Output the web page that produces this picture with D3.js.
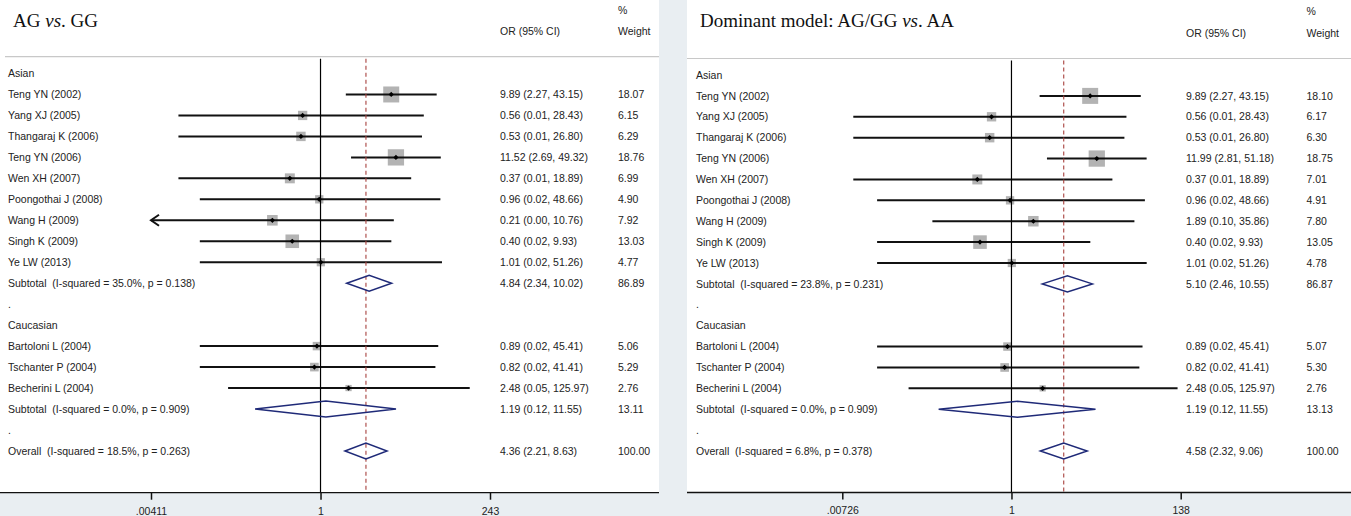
<!DOCTYPE html>
<html>
<head>
<meta charset="utf-8">
<script src="https://cdn.jsdelivr.net/npm/d3@7/dist/d3.min.js"></script>
<style>
  html, body { margin: 0; padding: 0; background: #ffffff; }
  svg { display: block; }
  text { white-space: pre; }
</style>
</head>
<body>
<svg id="chart" width="1351" height="516"></svg>
<script>
// ---- Study names (shared by both panels) ----
const asianStudies = ["Teng YN (2002)", "Yang XJ (2005)", "Thangaraj K (2006)", "Teng YN (2006)",
  "Wen XH (2007)", "Poongothai J (2008)", "Wang H (2009)", "Singh K (2009)", "Ye LW (2013)"];
const caucasianStudies = ["Bartoloni L (2004)", "Tschanter P (2004)", "Becherini L (2004)"];
const groupNames = ["Asian", "Caucasian"];

// ---- AG vs. GG ----
const agOR = [9.89, 0.56, 0.53, 11.52, 0.37, 0.96, 0.21, 0.40, 1.01, 0.89, 0.82, 2.48];
const agLo = [2.27, 0.01, 0.01, 2.69, 0.01, 0.02, 0.00, 0.02, 0.02, 0.02, 0.02, 0.05];
const agHi = [43.15, 28.43, 26.80, 49.32, 18.89, 48.66, 10.76, 9.93, 51.26, 45.41, 41.41, 125.97];
const agW  = [18.07, 6.15, 6.29, 18.76, 6.99, 4.90, 7.92, 13.03, 4.77, 5.06, 5.29, 2.76];
const agSubOR = [4.84, 1.19];
const agSubLo = [2.34, 0.12];
const agSubHi = [10.02, 11.55];
const agSubW  = [86.89, 13.11];
const agSubI2 = ["35.0%", "0.0%"];
const agSubP  = ["0.138", "0.909"];
const agOverall = [4.36, 2.21, 8.63, 100.00];
const agOverallStats = ["18.5%", "0.263"];
const agTicks = [".00411", "1", "243"];

// ---- Dominant model: AG/GG vs. AA ----
const domOR = [9.89, 0.56, 0.53, 11.99, 0.37, 0.96, 1.89, 0.40, 1.01, 0.89, 0.82, 2.48];
const domLo = [2.27, 0.01, 0.01, 2.81, 0.01, 0.02, 0.10, 0.02, 0.02, 0.02, 0.02, 0.05];
const domHi = [43.15, 28.43, 26.80, 51.18, 18.89, 48.66, 35.86, 9.93, 51.26, 45.41, 41.41, 125.97];
const domW  = [18.10, 6.17, 6.30, 18.75, 7.01, 4.91, 7.80, 13.05, 4.78, 5.07, 5.30, 2.76];
const domSubOR = [5.10, 1.19];
const domSubLo = [2.46, 0.12];
const domSubHi = [10.55, 11.55];
const domSubW  = [86.87, 13.13];
const domSubI2 = ["23.8%", "0.0%"];
const domSubP  = ["0.231", "0.909"];
const domOverall = [4.58, 2.32, 9.06, 100.00];
const domOverallStats = ["6.8%", "0.378"];
const domTicks = [".00726", "1", "138"];

const SANS = "'Liberation Sans', Arial, Helvetica, sans-serif";
const SERIF = "'Liberation Serif', 'Times New Roman', Times, serif";
const BG = "#e9eef2";
const DIAMOND = "#1f2a78";
const REF = "#a8423f";

const svg = d3.select("#chart");

// outer graph region (light grey) behind the white plot areas
svg.append("rect").attr("x", 0).attr("y", 0).attr("width", 1351).attr("height", 516).attr("fill", BG);

function fmt(v) { return v.toFixed(2); }

// Build the row list for one panel from its arrays
function buildRows(or, lo, hi, w, subOR, subLo, subHi, subW, subI2, subP, overall, overallStats) {
  const rows = [];
  const groups = [asianStudies, caucasianStudies];
  let k = 0;
  groups.forEach((names, g) => {
    rows.push({ type: "group", label: groupNames[g] });
    names.forEach(n => {
      rows.push({ type: "study", label: n, or: or[k], lo: lo[k], hi: hi[k], w: w[k] });
      k++;
    });
    rows.push({ type: "diamond", label: `Subtotal  (I-squared = ${subI2[g]}, p = ${subP[g]})`,
      or: subOR[g], lo: subLo[g], hi: subHi[g], w: subW[g] });
    rows.push({ type: "blank", label: "." });
  });
  rows.push({ type: "diamond", label: `Overall  (I-squared = ${overallStats[0]}, p = ${overallStats[1]})`,
    or: overall[0], lo: overall[1], hi: overall[2], w: overall[3] });
  return rows;
}

function drawPanel(cfg) {
  const g = svg.append("g");
  const rows = cfg.rows;

  // white plot area
  g.append("rect").attr("x", cfg.left).attr("y", 0)
    .attr("width", cfg.right - cfg.left).attr("height", cfg.axisY).attr("fill", "#ffffff");

  const x = d3.scaleLog().domain(cfg.ticks.map(Number).filter((d, i) => i !== 1).length ?
      [Number(cfg.ticks[0]), Number(cfg.ticks[2])] : [0.01, 100])
    .range(cfg.range);
  const y = i => cfg.y0 + i * cfg.step;
  const xMin = x.domain()[0];

  // title
  const title = g.append("text").attr("x", cfg.titleX).attr("y", cfg.titleY)
    .attr("font-family", SERIF).attr("font-size", 19).attr("fill", "#111");
  cfg.title.forEach(p => title.append("tspan").attr("font-style", p.italic ? "italic" : "normal").text(p.t));

  // column headers
  g.append("text").attr("x", cfg.orX).attr("y", cfg.headY).attr("dy", "0.35em")
    .attr("font-family", SANS).attr("font-size", 10.5).attr("fill", "#222").text("OR (95% CI)");
  g.append("text").attr("x", cfg.wX).attr("y", cfg.headY - 21.5).attr("dy", "0.35em")
    .attr("font-family", SANS).attr("font-size", 10.5).attr("fill", "#222").text("%");
  g.append("text").attr("x", cfg.wX).attr("y", cfg.headY).attr("dy", "0.35em")
    .attr("font-family", SANS).attr("font-size", 10.5).attr("fill", "#222").text("Weight");

  // top rule
  g.append("line").attr("x1", cfg.left + cfg.ruleInset).attr("x2", cfg.right)
    .attr("y1", cfg.ruleY).attr("y2", cfg.ruleY).attr("stroke", "#c8c8c8").attr("stroke-width", 1.2);

  // row labels, estimate text and weights
  rows.forEach((r, i) => {
    g.append("text").attr("x", cfg.labelX).attr("y", y(i)).attr("dy", "0.35em")
      .attr("font-family", SANS).attr("font-size", 10.5).attr("fill", "#222").text(r.label);
    if (r.type === "study" || r.type === "diamond") {
      g.append("text").attr("x", cfg.orX).attr("y", y(i)).attr("dy", "0.35em")
        .attr("font-family", SANS).attr("font-size", 10.5).attr("fill", "#222")
        .text(`${fmt(r.or)} (${fmt(r.lo)}, ${fmt(r.hi)})`);
      g.append("text").attr("x", cfg.wX).attr("y", y(i)).attr("dy", "0.35em")
        .attr("font-family", SANS).attr("font-size", 10.5).attr("fill", "#222").text(fmt(r.w));
    }
  });

  // weight boxes
  rows.forEach((r, i) => {
    if (r.type !== "study") return;
    const s = 3.76 * Math.sqrt(r.w);
    g.append("rect").attr("x", x(r.or) - s / 2).attr("y", y(i) - s / 2)
      .attr("width", s).attr("height", s).attr("fill", "#b3b3b3");
  });

  // confidence interval lines (arrow where the bound runs off the axis)
  rows.forEach((r, i) => {
    if (r.type !== "study") return;
    const clipped = r.lo < xMin;
    const x1 = clipped ? x(xMin) : x(r.lo);
    g.append("line").attr("x1", x1).attr("x2", x(r.hi)).attr("y1", y(i)).attr("y2", y(i))
      .attr("stroke", "#111").attr("stroke-width", 2);
    if (clipped) {
      g.append("path").attr("d", `M${x1 + 8},${y(i) - 5.5}L${x1},${y(i)}L${x1 + 8},${y(i) + 5.5}`)
        .attr("fill", "none").attr("stroke", "#111").attr("stroke-width", 2);
    }
  });

  // point estimates
  rows.forEach((r, i) => {
    if (r.type !== "study") return;
    const cx = x(r.or), cy = y(i), d = 2.6;
    g.append("path").attr("d", `M${cx},${cy - d}L${cx + d},${cy}L${cx},${cy + d}L${cx - d},${cy}Z`)
      .attr("fill", "#000");
  });

  // line of no effect
  g.append("line").attr("x1", x(1)).attr("x2", x(1)).attr("y1", cfg.ruleY + 2).attr("y2", cfg.axisY)
    .attr("stroke", "#000").attr("stroke-width", 1.2);

  // overall effect (dashed)
  const overall = rows[rows.length - 1];
  g.append("line").attr("x1", x(overall.or)).attr("x2", x(overall.or))
    .attr("y1", cfg.ruleY + 2).attr("y2", cfg.axisY)
    .attr("stroke", REF).attr("stroke-width", 1.1).attr("stroke-dasharray", "4,3");

  // pooled diamonds
  rows.forEach((r, i) => {
    if (r.type !== "diamond") return;
    const cy = y(i), h = 8;
    g.append("path")
      .attr("d", `M${x(r.lo)},${cy}L${x(r.or)},${cy - h}L${x(r.hi)},${cy}L${x(r.or)},${cy + h}Z`)
      .attr("fill", "none").attr("stroke", DIAMOND).attr("stroke-width", 1.5);
  });

  // x axis
  const axis = d3.axisBottom(x)
    .tickValues(cfg.ticks.map(Number))
    .tickFormat((d, i) => cfg.ticks[i])
    .tickSizeInner(7).tickSizeOuter(0).tickPadding(7.5);
  const ax = g.append("g").attr("transform", `translate(0,${cfg.axisY})`).call(axis);
  ax.select(".domain").remove();
  ax.selectAll(".tick line").attr("stroke", "#111").attr("stroke-width", 1.5);
  ax.selectAll(".tick text").attr("font-family", SANS).attr("font-size", 10.5).attr("fill", "#222");
  g.append("line").attr("x1", cfg.left).attr("x2", cfg.right).attr("y1", cfg.axisY).attr("y2", cfg.axisY)
    .attr("stroke", "#111").attr("stroke-width", 1.3);
}

drawPanel({
  rows: buildRows(agOR, agLo, agHi, agW, agSubOR, agSubLo, agSubHi, agSubW, agSubI2, agSubP, agOverall, agOverallStats),
  ticks: agTicks,
  title: [{ t: "AG " }, { t: "vs", italic: true }, { t: ". GG" }],
  left: 0, right: 659, ruleInset: 5,
  range: [151, 490],
  y0: 73.5, step: 20.97,
  titleX: 13, titleY: 27,
  labelX: 8, orX: 500, wX: 618, headY: 31.7, ruleY: 56.7,
  axisY: 492.7
});

drawPanel({
  rows: buildRows(domOR, domLo, domHi, domW, domSubOR, domSubLo, domSubHi, domSubW, domSubI2, domSubP, domOverall, domOverallStats),
  ticks: domTicks,
  title: [{ t: "Dominant model: AG/GG " }, { t: "vs", italic: true }, { t: ". AA" }],
  left: 687, right: 1351, ruleInset: 0,
  range: [842.3, 1180.7],
  y0: 75, step: 20.89,
  titleX: 700, titleY: 27,
  labelX: 696, orX: 1186, wX: 1306.5, headY: 33, ruleY: 58.5,
  axisY: 492.5
});
</script>
</body>
</html>
